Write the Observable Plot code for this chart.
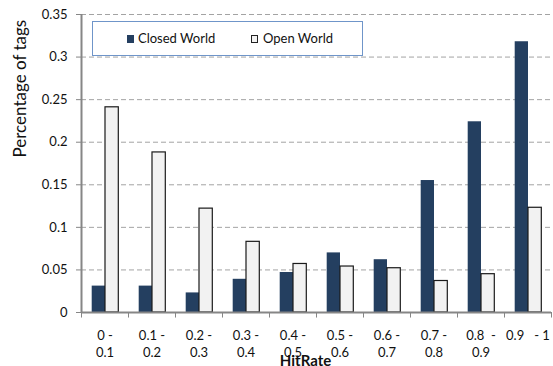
<!DOCTYPE html>
<html>
<head>
<meta charset="utf-8">
<script src="https://cdn.jsdelivr.net/npm/d3@7"></script>
<script src="https://cdn.jsdelivr.net/npm/@observablehq/plot@0.6"></script>
<style>
  html, body { margin: 0; padding: 0; background: #fff; }
  #wrap { position: relative; width: 553px; height: 366px; font-family: Lato, "Open Sans", sans-serif; }
  #legend { position: absolute; left: 92px; top: 21px; width: 269px; height: 33px; border: 1px solid #6f95c9; background: #fff; }
  .sw { position: absolute; width: 7px; height: 8px; top: 13px; box-sizing: border-box; }
  .lt { position: absolute; top: 8px; font-size: 13px; line-height: 17px; color: #111; white-space: nowrap; }
</style>
</head>
<body>
<div id="wrap">
  <div id="chart"></div>
  <div id="legend">
    <div class="sw" style="left:34px; background:#243f60;"></div>
    <div class="lt" style="left:45px;">Closed World</div>
    <div class="sw" style="left:158px; background:#f2f2f2; border:1px solid #222;"></div>
    <div class="lt" style="left:170px;">Open World</div>
  </div>
</div>
<script>
const categories = ["0-0.1","0.1-0.2","0.2-0.3","0.3-0.4","0.4-0.5","0.5-0.6","0.6-0.7","0.7-0.8","0.8-0.9","0.9-1"];
const tickLabels = ["0 -\n0.1","0.1 -\n0.2","0.2 -\n0.3","0.3 -\n0.4","0.4 -\n0.5","0.5 -\n0.6","0.6 -\n0.7","0.7 -\n0.8","0.8\u00a0 -\n0.9","0.9\u00a0\u00a0 - 1"];
const closedWorld = [0.031, 0.031, 0.023, 0.039, 0.047, 0.070, 0.062, 0.155, 0.224, 0.318];
const openWorld   = [0.241, 0.188, 0.122, 0.083, 0.057, 0.054, 0.052, 0.037, 0.045, 0.123];
const yTicks = [0, 0.05, 0.1, 0.15, 0.2, 0.25, 0.3, 0.35];

const W = 553, H = 366, mL = 81, mR = 2, mT = 14, mB = 54;
const step = (W - mL - mR) / categories.length;

const closedRows = categories.map((c, i) => ({cat: c, value: closedWorld[i]}));
const openRows = categories.map((c, i) => ({cat: c, value: openWorld[i]}));
const labelRows = categories.map((c, i) => ({cat: c, label: tickLabels[i]}));
const axisGray = "#868686";

const chart = Plot.plot({
  width: W, height: H,
  marginLeft: mL, marginRight: mR, marginTop: mT, marginBottom: mB,
  style: {fontFamily: "Lato, 'Open Sans', sans-serif", fontSize: "13px", color: "#111", background: "#fff"},
  x: {domain: categories, padding: 0, axis: null},
  y: {domain: [0, 0.35], ticks: yTicks, tickFormat: d => String(+d.toFixed(2)), tickSize: 5, tickPadding: 9, label: null},
  marks: [
    Plot.ruleY(yTicks.filter(d => d > 0), {y: d => d, stroke: "#a3a3a3", strokeWidth: 1, strokeDasharray: "5,3"}),
    Plot.barY(closedRows, {x: "cat", y: "value", fill: "#243f60", insetLeft: 10.7, insetRight: 23}),
    Plot.barY(openRows, {x: "cat", y: "value", fill: "#f2f2f2", stroke: "#1a1a1a", strokeWidth: 1.2, insetLeft: 24, insetRight: 9.7}),
    Plot.ruleY([0], {stroke: axisGray, strokeWidth: 2}),
    Plot.ruleX([categories[0]], {x: d => d, dx: -step / 2, y1: 0, y2: 0.35, stroke: axisGray, strokeWidth: 2}),
    Plot.ruleX(categories, {x: d => d, dx: -step / 2, y1: 0, y2: -0.0065, stroke: axisGray, strokeWidth: 1}),
    Plot.ruleX([categories[categories.length - 1]], {x: d => d, dx: step / 2, y1: 0, y2: -0.0065, stroke: axisGray, strokeWidth: 1}),
    Plot.text(labelRows, {x: "cat", y: 0, text: "label", lineAnchor: "top", dy: 15, lineHeight: 17 / 13, fontSize: 13, fill: "#111"}),
    Plot.text(["HitRate"], {frameAnchor: "bottom", text: d => d, dx: -11, dy: 49, lineAnchor: "middle", fontSize: 15, fontWeight: "bold", fill: "#111"}),
    Plot.text(["Percentage of tags"], {frameAnchor: "left", text: d => d, rotate: -90, dx: -61, dy: -6, lineAnchor: "middle", fontSize: 17, fill: "#111"})
  ]
});
d3.select(chart).selectAll('g[aria-label^="y-axis"] line, g[aria-label^="y-axis"] path, g[aria-label="y-axis tick"]').attr("stroke", axisGray);
document.getElementById("chart").appendChild(chart);
</script>
</body>
</html>
